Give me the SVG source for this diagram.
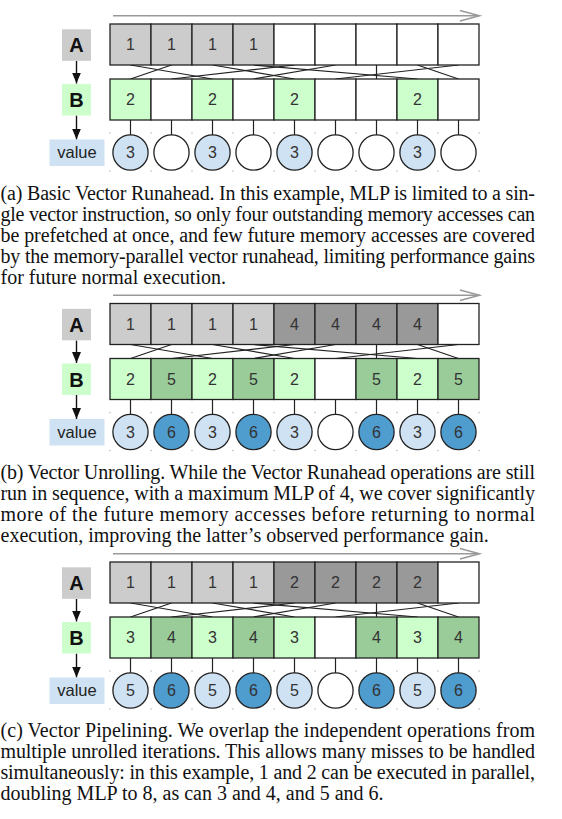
<svg xmlns="http://www.w3.org/2000/svg" width="562" height="819" viewBox="0 0 562 819">
<style>
.cell{stroke:#222;stroke-width:1.3}
.ga{fill:#cccccc}.gd{fill:#999999}.gl{fill:#ccffcc}.gg{fill:#99cc99}.bl{fill:#cfe2f3}.bd{fill:#4f9ccf}.w{fill:#ffffff}
.num{font-family:"Liberation Sans",Arial,sans-serif;font-size:16px;fill:#333;text-anchor:middle}
.lab{font-family:"Liberation Sans",Arial,sans-serif;font-size:20px;font-weight:bold;fill:#111;text-anchor:middle}
.vlab{font-family:"Liberation Sans",Arial,sans-serif;font-size:16.5px;fill:#222;text-anchor:middle}
.conn line{stroke:#222;stroke-width:1.2}
.conn line.arr{stroke:#111;stroke-width:1.4}
.conn .tl{stroke:#999;stroke-width:1.5;fill:none}
.dot{fill:#aaa}
.cap{font-family:"Liberation Serif","Times New Roman",serif;font-size:20px;fill:#111}
</style>
<defs>
<marker id="ah" markerUnits="userSpaceOnUse" markerWidth="11" markerHeight="9" refX="11" refY="4.5" orient="auto"><path d="M0,0 L11,4.5 L0,9 z" fill="#111"/></marker>
<g id="dots">
<circle class="dot" cx="110" cy="133" r="0.7"/><circle class="dot" cx="151" cy="133" r="0.7"/><circle class="dot" cx="192" cy="133" r="0.7"/><circle class="dot" cx="233" cy="133" r="0.7"/><circle class="dot" cx="274" cy="133" r="0.7"/><circle class="dot" cx="315" cy="133" r="0.7"/><circle class="dot" cx="356" cy="133" r="0.7"/><circle class="dot" cx="397" cy="133" r="0.7"/><circle class="dot" cx="438" cy="133" r="0.7"/><circle class="dot" cx="479" cy="133" r="0.7"/>
<circle class="dot" cx="110" cy="171" r="0.7"/><circle class="dot" cx="151" cy="171" r="0.7"/><circle class="dot" cx="192" cy="171" r="0.7"/><circle class="dot" cx="233" cy="171" r="0.7"/><circle class="dot" cx="274" cy="171" r="0.7"/><circle class="dot" cx="315" cy="171" r="0.7"/><circle class="dot" cx="356" cy="171" r="0.7"/><circle class="dot" cx="397" cy="171" r="0.7"/><circle class="dot" cx="438" cy="171" r="0.7"/><circle class="dot" cx="479" cy="171" r="0.7"/>
</g>
<g id="connset" class="conn">
<line x1="130.5" y1="65" x2="212.5" y2="79"/><line x1="171.5" y1="65" x2="130.5" y2="79"/><line x1="212.5" y1="65" x2="294.5" y2="79"/><line x1="253.5" y1="65" x2="417.5" y2="79"/><line x1="294.5" y1="65" x2="171.5" y2="79"/><line x1="335.5" y1="65" x2="253.5" y2="79"/><line x1="376.5" y1="65" x2="376.5" y2="79"/><line x1="417.5" y1="65" x2="458.5" y2="79"/><line x1="458.5" y1="65" x2="335.5" y2="79"/>
<line x1="130.5" y1="120" x2="130.5" y2="135"/><line x1="171.5" y1="120" x2="171.5" y2="135"/><line x1="212.5" y1="120" x2="212.5" y2="135"/><line x1="253.5" y1="120" x2="253.5" y2="135"/><line x1="294.5" y1="120" x2="294.5" y2="135"/><line x1="335.5" y1="120" x2="335.5" y2="135"/><line x1="376.5" y1="120" x2="376.5" y2="135"/><line x1="417.5" y1="120" x2="417.5" y2="135"/><line x1="458.5" y1="120" x2="458.5" y2="135"/>
<line class="arr" x1="76.5" y1="61" x2="76.5" y2="83.5" marker-end="url(#ah)"/><line class="arr" x1="76.5" y1="115.5" x2="76.5" y2="139.5" marker-end="url(#ah)"/>
<line class="tl" x1="113" y1="15.7" x2="479" y2="15.7"/><polyline class="tl" points="460,10.5 479.5,15.7 460,21"/>
</g>
</defs>

<!-- ===== Panel (a) ===== -->
<g id="panel-a">
<g id="a-connectors"><use href="#connset"/><use href="#dots"/></g>
<g id="a-labelA"><rect class="ga" x="62" y="29.3" width="29" height="31.5"/><text class="lab" x="76.5" y="52.2">A</text></g>
<g id="a-labelB"><rect class="gl" x="62" y="84" width="29" height="31.5"/><text class="lab" x="76.5" y="107">B</text></g>
<g id="a-labelV"><rect class="bl" x="49.5" y="139.5" width="55" height="26.5"/><text class="vlab" x="77" y="158.4">value</text></g>
<g id="a-A0"><rect class="cell ga" x="110" y="24" width="41" height="41"/><text class="num" x="130.5" y="50.2">1</text></g>
<g id="a-A1"><rect class="cell ga" x="151" y="24" width="41" height="41"/><text class="num" x="171.5" y="50.2">1</text></g>
<g id="a-A2"><rect class="cell ga" x="192" y="24" width="41" height="41"/><text class="num" x="212.5" y="50.2">1</text></g>
<g id="a-A3"><rect class="cell ga" x="233" y="24" width="41" height="41"/><text class="num" x="253.5" y="50.2">1</text></g>
<g id="a-A4"><rect class="cell w" x="274" y="24" width="41" height="41"/></g>
<g id="a-A5"><rect class="cell w" x="315" y="24" width="41" height="41"/></g>
<g id="a-A6"><rect class="cell w" x="356" y="24" width="41" height="41"/></g>
<g id="a-A7"><rect class="cell w" x="397" y="24" width="41" height="41"/></g>
<g id="a-A8"><rect class="cell w" x="438" y="24" width="41" height="41"/></g>
<g id="a-B0"><rect class="cell gl" x="110" y="79" width="41" height="41"/><text class="num" x="130.5" y="105.2">2</text></g>
<g id="a-B1"><rect class="cell w" x="151" y="79" width="41" height="41"/></g>
<g id="a-B2"><rect class="cell gl" x="192" y="79" width="41" height="41"/><text class="num" x="212.5" y="105.2">2</text></g>
<g id="a-B3"><rect class="cell w" x="233" y="79" width="41" height="41"/></g>
<g id="a-B4"><rect class="cell gl" x="274" y="79" width="41" height="41"/><text class="num" x="294.5" y="105.2">2</text></g>
<g id="a-B5"><rect class="cell w" x="315" y="79" width="41" height="41"/></g>
<g id="a-B6"><rect class="cell w" x="356" y="79" width="41" height="41"/></g>
<g id="a-B7"><rect class="cell gl" x="397" y="79" width="41" height="41"/><text class="num" x="417.5" y="105.2">2</text></g>
<g id="a-B8"><rect class="cell w" x="438" y="79" width="41" height="41"/></g>
<g id="a-V0"><circle class="cell bl" cx="130.5" cy="152.5" r="17.6"/><text class="num" x="130.5" y="158.2">3</text></g>
<g id="a-V1"><circle class="cell w" cx="171.5" cy="152.5" r="17.6"/></g>
<g id="a-V2"><circle class="cell bl" cx="212.5" cy="152.5" r="17.6"/><text class="num" x="212.5" y="158.2">3</text></g>
<g id="a-V3"><circle class="cell w" cx="253.5" cy="152.5" r="17.6"/></g>
<g id="a-V4"><circle class="cell bl" cx="294.5" cy="152.5" r="17.6"/><text class="num" x="294.5" y="158.2">3</text></g>
<g id="a-V5"><circle class="cell w" cx="335.5" cy="152.5" r="17.6"/></g>
<g id="a-V6"><circle class="cell w" cx="376.5" cy="152.5" r="17.6"/></g>
<g id="a-V7"><circle class="cell bl" cx="417.5" cy="152.5" r="17.6"/><text class="num" x="417.5" y="158.2">3</text></g>
<g id="a-V8"><circle class="cell w" cx="458.5" cy="152.5" r="17.6"/></g>
</g>

<!-- ===== Panel (b) ===== -->
<g id="panel-b" transform="translate(0,279.5)">
<g id="b-connectors"><use href="#connset"/><use href="#dots"/></g>
<g id="b-labelA"><rect class="ga" x="62" y="29.3" width="29" height="31.5"/><text class="lab" x="76.5" y="52.2">A</text></g>
<g id="b-labelB"><rect class="gl" x="62" y="84" width="29" height="31.5"/><text class="lab" x="76.5" y="107">B</text></g>
<g id="b-labelV"><rect class="bl" x="49.5" y="139.5" width="55" height="26.5"/><text class="vlab" x="77" y="158.4">value</text></g>
<g id="b-A0"><rect class="cell ga" x="110" y="24" width="41" height="41"/><text class="num" x="130.5" y="50.2">1</text></g>
<g id="b-A1"><rect class="cell ga" x="151" y="24" width="41" height="41"/><text class="num" x="171.5" y="50.2">1</text></g>
<g id="b-A2"><rect class="cell ga" x="192" y="24" width="41" height="41"/><text class="num" x="212.5" y="50.2">1</text></g>
<g id="b-A3"><rect class="cell ga" x="233" y="24" width="41" height="41"/><text class="num" x="253.5" y="50.2">1</text></g>
<g id="b-A4"><rect class="cell gd" x="274" y="24" width="41" height="41"/><text class="num" x="294.5" y="50.2">4</text></g>
<g id="b-A5"><rect class="cell gd" x="315" y="24" width="41" height="41"/><text class="num" x="335.5" y="50.2">4</text></g>
<g id="b-A6"><rect class="cell gd" x="356" y="24" width="41" height="41"/><text class="num" x="376.5" y="50.2">4</text></g>
<g id="b-A7"><rect class="cell gd" x="397" y="24" width="41" height="41"/><text class="num" x="417.5" y="50.2">4</text></g>
<g id="b-A8"><rect class="cell w" x="438" y="24" width="41" height="41"/></g>
<g id="b-B0"><rect class="cell gl" x="110" y="79" width="41" height="41"/><text class="num" x="130.5" y="105.2">2</text></g>
<g id="b-B1"><rect class="cell gg" x="151" y="79" width="41" height="41"/><text class="num" x="171.5" y="105.2">5</text></g>
<g id="b-B2"><rect class="cell gl" x="192" y="79" width="41" height="41"/><text class="num" x="212.5" y="105.2">2</text></g>
<g id="b-B3"><rect class="cell gg" x="233" y="79" width="41" height="41"/><text class="num" x="253.5" y="105.2">5</text></g>
<g id="b-B4"><rect class="cell gl" x="274" y="79" width="41" height="41"/><text class="num" x="294.5" y="105.2">2</text></g>
<g id="b-B5"><rect class="cell w" x="315" y="79" width="41" height="41"/></g>
<g id="b-B6"><rect class="cell gg" x="356" y="79" width="41" height="41"/><text class="num" x="376.5" y="105.2">5</text></g>
<g id="b-B7"><rect class="cell gl" x="397" y="79" width="41" height="41"/><text class="num" x="417.5" y="105.2">2</text></g>
<g id="b-B8"><rect class="cell gg" x="438" y="79" width="41" height="41"/><text class="num" x="458.5" y="105.2">5</text></g>
<g id="b-V0"><circle class="cell bl" cx="130.5" cy="152.5" r="17.6"/><text class="num" x="130.5" y="158.2">3</text></g>
<g id="b-V1"><circle class="cell bd" cx="171.5" cy="152.5" r="17.6"/><text class="num" x="171.5" y="158.2">6</text></g>
<g id="b-V2"><circle class="cell bl" cx="212.5" cy="152.5" r="17.6"/><text class="num" x="212.5" y="158.2">3</text></g>
<g id="b-V3"><circle class="cell bd" cx="253.5" cy="152.5" r="17.6"/><text class="num" x="253.5" y="158.2">6</text></g>
<g id="b-V4"><circle class="cell bl" cx="294.5" cy="152.5" r="17.6"/><text class="num" x="294.5" y="158.2">3</text></g>
<g id="b-V5"><circle class="cell w" cx="335.5" cy="152.5" r="17.6"/></g>
<g id="b-V6"><circle class="cell bd" cx="376.5" cy="152.5" r="17.6"/><text class="num" x="376.5" y="158.2">6</text></g>
<g id="b-V7"><circle class="cell bl" cx="417.5" cy="152.5" r="17.6"/><text class="num" x="417.5" y="158.2">3</text></g>
<g id="b-V8"><circle class="cell bd" cx="458.5" cy="152.5" r="17.6"/><text class="num" x="458.5" y="158.2">6</text></g>
</g>

<!-- ===== Panel (c) ===== -->
<g id="panel-c" transform="translate(0,538)">
<g id="c-connectors"><use href="#connset"/><use href="#dots"/></g>
<g id="c-labelA"><rect class="ga" x="62" y="29.3" width="29" height="31.5"/><text class="lab" x="76.5" y="52.2">A</text></g>
<g id="c-labelB"><rect class="gl" x="62" y="84" width="29" height="31.5"/><text class="lab" x="76.5" y="107">B</text></g>
<g id="c-labelV"><rect class="bl" x="49.5" y="139.5" width="55" height="26.5"/><text class="vlab" x="77" y="158.4">value</text></g>
<g id="c-A0"><rect class="cell ga" x="110" y="24" width="41" height="41"/><text class="num" x="130.5" y="50.2">1</text></g>
<g id="c-A1"><rect class="cell ga" x="151" y="24" width="41" height="41"/><text class="num" x="171.5" y="50.2">1</text></g>
<g id="c-A2"><rect class="cell ga" x="192" y="24" width="41" height="41"/><text class="num" x="212.5" y="50.2">1</text></g>
<g id="c-A3"><rect class="cell ga" x="233" y="24" width="41" height="41"/><text class="num" x="253.5" y="50.2">1</text></g>
<g id="c-A4"><rect class="cell gd" x="274" y="24" width="41" height="41"/><text class="num" x="294.5" y="50.2">2</text></g>
<g id="c-A5"><rect class="cell gd" x="315" y="24" width="41" height="41"/><text class="num" x="335.5" y="50.2">2</text></g>
<g id="c-A6"><rect class="cell gd" x="356" y="24" width="41" height="41"/><text class="num" x="376.5" y="50.2">2</text></g>
<g id="c-A7"><rect class="cell gd" x="397" y="24" width="41" height="41"/><text class="num" x="417.5" y="50.2">2</text></g>
<g id="c-A8"><rect class="cell w" x="438" y="24" width="41" height="41"/></g>
<g id="c-B0"><rect class="cell gl" x="110" y="79" width="41" height="41"/><text class="num" x="130.5" y="105.2">3</text></g>
<g id="c-B1"><rect class="cell gg" x="151" y="79" width="41" height="41"/><text class="num" x="171.5" y="105.2">4</text></g>
<g id="c-B2"><rect class="cell gl" x="192" y="79" width="41" height="41"/><text class="num" x="212.5" y="105.2">3</text></g>
<g id="c-B3"><rect class="cell gg" x="233" y="79" width="41" height="41"/><text class="num" x="253.5" y="105.2">4</text></g>
<g id="c-B4"><rect class="cell gl" x="274" y="79" width="41" height="41"/><text class="num" x="294.5" y="105.2">3</text></g>
<g id="c-B5"><rect class="cell w" x="315" y="79" width="41" height="41"/></g>
<g id="c-B6"><rect class="cell gg" x="356" y="79" width="41" height="41"/><text class="num" x="376.5" y="105.2">4</text></g>
<g id="c-B7"><rect class="cell gl" x="397" y="79" width="41" height="41"/><text class="num" x="417.5" y="105.2">3</text></g>
<g id="c-B8"><rect class="cell gg" x="438" y="79" width="41" height="41"/><text class="num" x="458.5" y="105.2">4</text></g>
<g id="c-V0"><circle class="cell bl" cx="130.5" cy="152.5" r="17.6"/><text class="num" x="130.5" y="158.2">5</text></g>
<g id="c-V1"><circle class="cell bd" cx="171.5" cy="152.5" r="17.6"/><text class="num" x="171.5" y="158.2">6</text></g>
<g id="c-V2"><circle class="cell bl" cx="212.5" cy="152.5" r="17.6"/><text class="num" x="212.5" y="158.2">5</text></g>
<g id="c-V3"><circle class="cell bd" cx="253.5" cy="152.5" r="17.6"/><text class="num" x="253.5" y="158.2">6</text></g>
<g id="c-V4"><circle class="cell bl" cx="294.5" cy="152.5" r="17.6"/><text class="num" x="294.5" y="158.2">5</text></g>
<g id="c-V5"><circle class="cell w" cx="335.5" cy="152.5" r="17.6"/></g>
<g id="c-V6"><circle class="cell bd" cx="376.5" cy="152.5" r="17.6"/><text class="num" x="376.5" y="158.2">6</text></g>
<g id="c-V7"><circle class="cell bl" cx="417.5" cy="152.5" r="17.6"/><text class="num" x="417.5" y="158.2">5</text></g>
<g id="c-V8"><circle class="cell bd" cx="458.5" cy="152.5" r="17.6"/><text class="num" x="458.5" y="158.2">6</text></g>
</g>

<!-- ===== Captions ===== -->
<g id="caption-a" class="cap">
<text x="0.5" y="199.5" textLength="534.5" lengthAdjust="spacing">(a) Basic Vector Runahead. In this example, MLP is limited to a sin-</text>
<text x="0.5" y="220.6" textLength="534.5" lengthAdjust="spacing">gle vector instruction, so only four outstanding memory accesses can</text>
<text x="0.5" y="241.7" textLength="534.5" lengthAdjust="spacing">be prefetched at once, and few future memory accesses are covered</text>
<text x="0.5" y="262.8" textLength="534.5" lengthAdjust="spacing">by the memory-parallel vector runahead, limiting performance gains</text>
<text x="0.5" y="283.9">for future normal execution.</text>
</g>
<g id="caption-b" class="cap">
<text x="0.5" y="479" textLength="534.5" lengthAdjust="spacing">(b) Vector Unrolling. While the Vector Runahead operations are still</text>
<text x="0.5" y="500.1" textLength="534.5" lengthAdjust="spacing">run in sequence, with a maximum MLP of 4, we cover significantly</text>
<text x="0.5" y="521.2" textLength="534.5" lengthAdjust="spacing">more of the future memory accesses before returning to normal</text>
<text x="0.5" y="542.3">execution, improving the latter’s observed performance gain.</text>
</g>
<g id="caption-c" class="cap">
<text x="0.5" y="737" textLength="534.5" lengthAdjust="spacing">(c) Vector Pipelining. We overlap the independent operations from</text>
<text x="0.5" y="758.1" textLength="534.5" lengthAdjust="spacing">multiple unrolled iterations. This allows many misses to be handled</text>
<text x="0.5" y="779.2" textLength="534.5" lengthAdjust="spacing">simultaneously: in this example, 1 and 2 can be executed in parallel,</text>
<text x="0.5" y="800.3">doubling MLP to 8, as can 3 and 4, and 5 and 6.</text>
</g>
</svg>
